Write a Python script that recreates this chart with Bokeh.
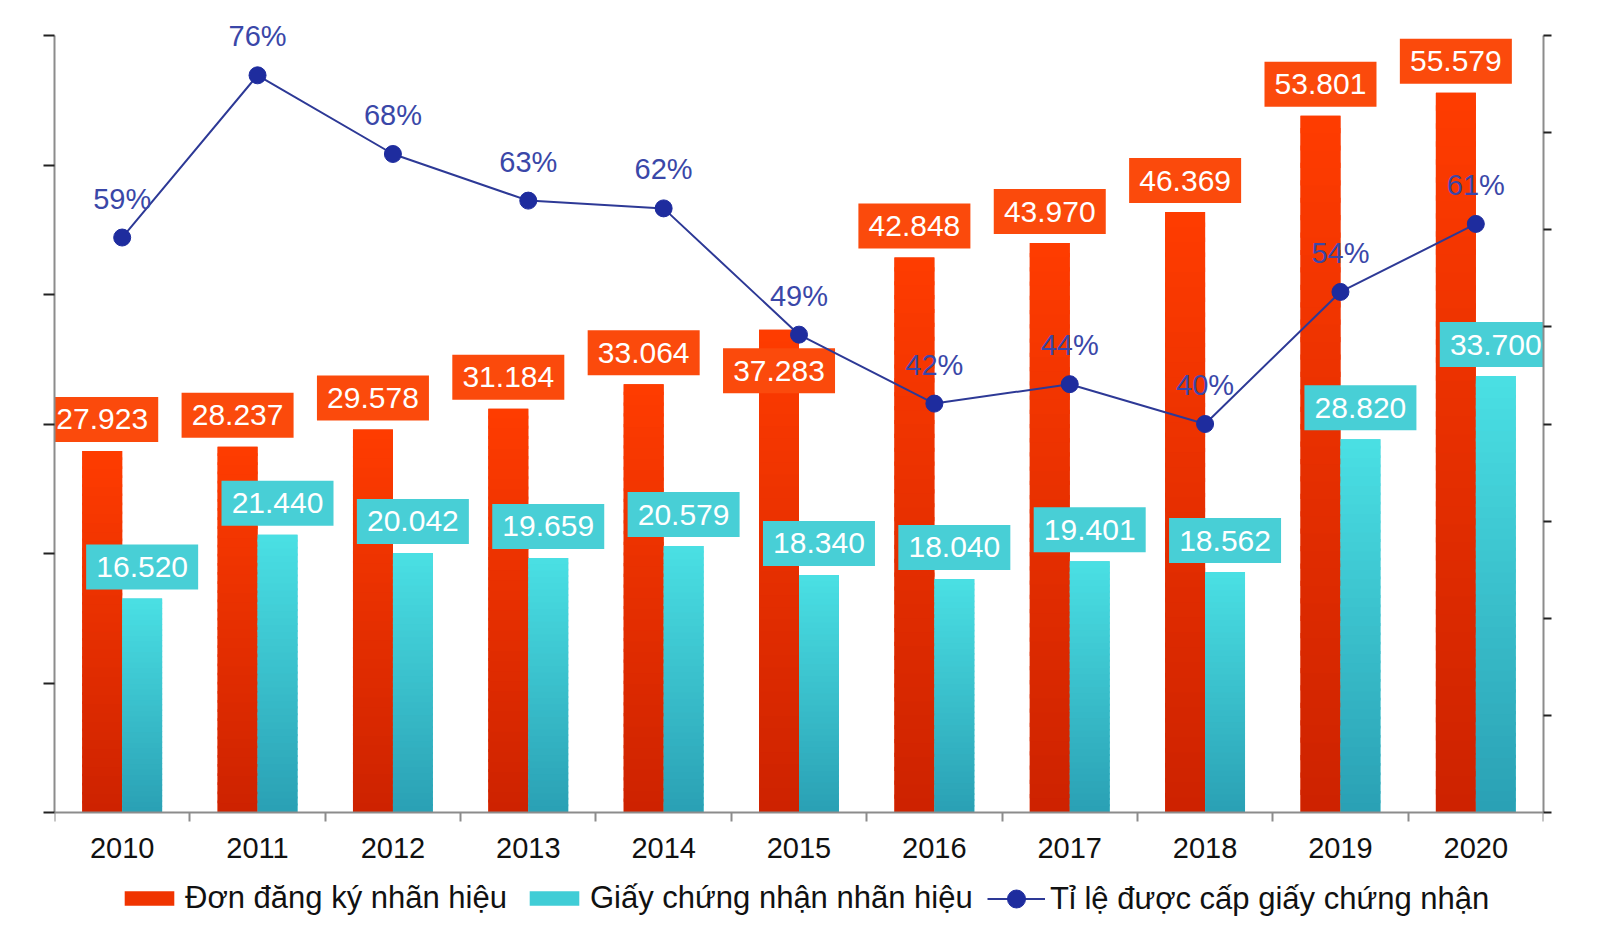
from bokeh.plotting import figure
from bokeh.models import Range1d, LinearAxis, FixedTicker, Legend, LegendItem
from bokeh.core.properties import value
from bokeh.embed import file_html
from bokeh.resources import INLINE

# ---------------- data ----------------
years = ["2010", "2011", "2012", "2013", "2014", "2015", "2016", "2017", "2018", "2019", "2020"]
applications = [27923, 28237, 29578, 31184, 33064, 37283, 42848, 43970, 46369, 53801, 55579]
certificates = [16520, 21440, 20042, 19659, 20579, 18340, 18040, 19401, 18562, 28820, 33700]
grant_rate = [59.2, 75.9, 67.8, 63.0, 62.2, 49.2, 42.1, 44.1, 40.0, 53.6, 60.6]
series_names = ["Đơn đăng ký nhãn hiệu", "Giấy chứng nhận nhãn hiệu",
                "Tỉ lệ được cấp giấy chứng nhận"]
left_ticks = [0, 10000, 20000, 30000, 40000, 50000, 60000]
right_ticks = [0, 10, 20, 30, 40, 50, 60, 70, 80]

# ---------------- layout constants ----------------
W, H = 1600, 936
TOP, BOTTOM, LEFT, RIGHT = 35, 124, 54, 57
AXIS_H = H - TOP - BOTTOM      # pixel height of the value axes
Y_MAX, P_MAX = 60000, 80
UPP = Y_MAX / AXIS_H           # data units per pixel (left axis)
PPP = P_MAX / AXIS_H           # data units per pixel (right axis)
BAR_W = 0.295
FONT = "Liberation Sans"
FS = "29px"
FS_BOX = "30px"
FS_LEG = "31px"

RED_TOP, RED_BOT = (255, 60, 0), (205, 34, 0)
CY_TOP, CY_BOT = (74, 224, 228), (42, 160, 180)
RED_BOX, CY_BOX = "#fb4a0c", "#48cfd6"
LINE_C, DOT_C, PCT_C = "#2d3996", "#1e2c9e", "#3a47a8"
AXIS_C = "#8c8c8c"


def hexc(c):
    return "#%02x%02x%02x" % tuple(int(round(v)) for v in c)


def mix(a, b, t):
    return hexc([a[i] * (1 - t) + b[i] * t for i in range(3)])


def fmt(v):
    return f"{v:,}".replace(",", ".")


n = len(years)
centers = [i + 0.5 for i in range(n)]
red_x = [c - BAR_W / 2 for c in centers]
cy_x = [c + BAR_W / 2 for c in centers]

# frame spans the full height; axes are bounded to their value span
p = figure(width=W, height=H, x_range=Range1d(0, n),
           y_range=Range1d(-BOTTOM * UPP, Y_MAX + TOP * UPP),
           output_backend="svg", toolbar_location=None,
           min_border_left=LEFT, min_border_right=RIGHT, min_border_top=0,
           min_border_bottom=0, outline_line_color=None,
           background_fill_color="white", border_fill_color="white")
p.grid.visible = False
p.extra_y_ranges = {"pct": Range1d(-BOTTOM * PPP, P_MAX + TOP * PPP)}

# ---------------- axes ----------------
ya = p.yaxis[0]
ya.bounds = (0, Y_MAX)
ya.ticker = FixedTicker(ticks=left_ticks, minor_ticks=[])
ya.major_label_overrides = {t: "" for t in left_ticks}
ya.axis_line_color = AXIS_C
ya.axis_line_width = 2
ya.major_tick_out = 11
ya.major_tick_in = 0
ya.major_tick_line_color = "#222222"
ya.major_tick_line_width = 2
ya.minor_tick_out = 0

ra = LinearAxis(y_range_name="pct", bounds=(0, P_MAX),
                ticker=FixedTicker(ticks=right_ticks, minor_ticks=[]))
ra.major_label_overrides = {t: "" for t in right_ticks}
ra.axis_line_color = AXIS_C
ra.axis_line_width = 2
ra.major_tick_out = 8
ra.major_tick_in = 0
ra.major_tick_line_color = "#222222"
ra.major_tick_line_width = 2
ra.minor_tick_out = 0
p.add_layout(ra, "right")

xa = p.xaxis[0]
xa.fixed_location = 0
xa.ticker = FixedTicker(ticks=centers, minor_ticks=list(range(n + 1)))
xa.major_label_overrides = {c: y for c, y in zip(centers, years)}
xa.major_tick_out = 0
xa.major_tick_in = 0
xa.minor_tick_out = 9
xa.minor_tick_in = 0
xa.minor_tick_line_color = AXIS_C
xa.minor_tick_line_width = 2
xa.axis_line_color = AXIS_C
xa.axis_line_width = 2
xa.major_label_text_font = FONT
xa.major_label_text_font_size = FS
xa.major_label_text_color = "#111111"
xa.major_label_standoff = 16

# ---------------- bars (gradient by slices) ----------------
red_base = p.vbar(x=red_x, top=applications, width=BAR_W, fill_color=mix(RED_TOP, RED_BOT, 0.3),
                  line_color=None)
cy_base = p.vbar(x=cy_x, top=certificates, width=BAR_W, fill_color=mix(CY_TOP, CY_BOT, 0.3),
                 line_color=None)

N = 40
for xs, vals, ctop, cbot in ((red_x, applications, RED_TOP, RED_BOT),
                             (cy_x, certificates, CY_TOP, CY_BOT)):
    L, R, B, T, C = [], [], [], [], []
    for x, v in zip(xs, vals):
        for k in range(N):
            L.append(x - BAR_W / 2)
            R.append(x + BAR_W / 2)
            B.append(v * k / N)
            T.append(v * (k + 1) / N + (v / N * 0.3 if k < N - 1 else 0))
            C.append(mix(ctop, cbot, 1 - (k + 0.5) / N))
    p.quad(left=L, right=R, bottom=B, top=T, fill_color=C, line_color=None)

# ---------------- value labels ----------------
red_shift = {"2015": -41}
red_y = [v + red_shift.get(y, 31.5) * UPP for v, y in zip(applications, years)]
cy_y = [v + 31.5 * UPP for v in certificates]

p.rect(x=red_x, y=red_y, width=112, height=45, width_units="screen", height_units="screen",
       fill_color=RED_BOX, line_color=None)
p.text(x=red_x, y=red_y, text=[fmt(v) for v in applications], text_align="center",
       text_baseline="middle", text_font=value(FONT), text_font_size=FS_BOX, text_color="white")
p.rect(x=cy_x, y=cy_y, width=112, height=45, width_units="screen", height_units="screen",
       fill_color=CY_BOX, line_color=None)
p.text(x=cy_x, y=cy_y, text=[fmt(v) for v in certificates], text_align="center",
       text_baseline="middle", text_font=value(FONT), text_font_size=FS_BOX, text_color="white")

# ---------------- line ----------------
line_r = p.line(x=centers, y=grant_rate, y_range_name="pct", line_color=LINE_C, line_width=2)
dots_r = p.scatter(x=centers, y=grant_rate, y_range_name="pct", size=17, fill_color=DOT_C,
                   line_color=DOT_C)
p.text(x=centers, y=[v + 39 * PPP for v in grant_rate], y_range_name="pct",
       text=[f"{round(v)}%" for v in grant_rate], text_align="center", text_baseline="middle",
       text_font=value(FONT), text_font_size=FS, text_color=PCT_C)

# ---------------- legends ----------------
common = dict(orientation="horizontal", label_text_font=FONT, label_text_font_size=FS_LEG,
              label_text_color="#111111", label_standoff=5, padding=0, margin=0,
              border_line_color=None, background_fill_alpha=0)
legend_bars = Legend(items=[LegendItem(label=series_names[0], renderers=[red_base]),
                            LegendItem(label=series_names[1], renderers=[cy_base])],
                     location=(64, 20), glyph_width=62, glyph_height=18, spacing=16, **common)
legend_line = Legend(items=[LegendItem(label=series_names[2], renderers=[line_r, dots_r])],
                     location=(933, 15), glyph_width=58, glyph_height=45, **common)
p.add_layout(legend_bars, "center")
p.add_layout(legend_line, "center")

open("out.html", "w").write(file_html(p, INLINE))
